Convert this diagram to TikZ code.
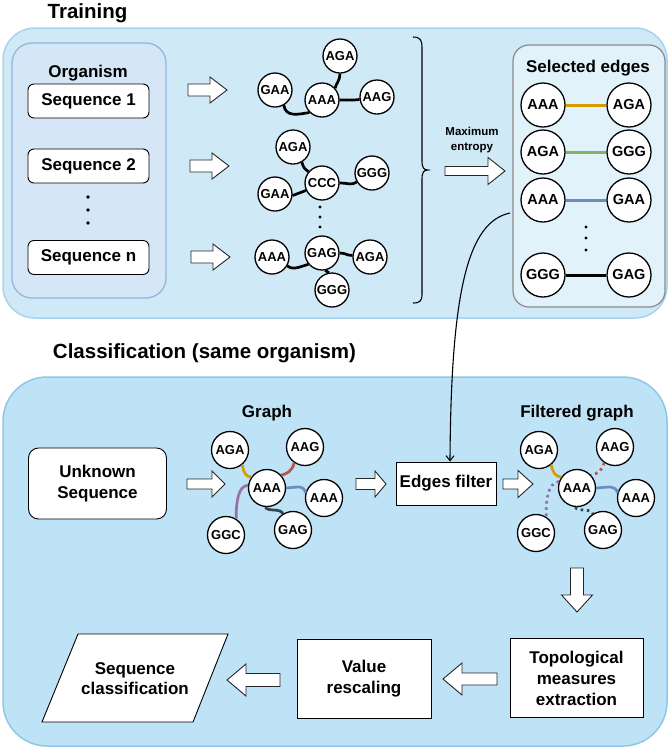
\documentclass[tikz,border=0pt]{standalone}
\usepackage{fontspec}
\setmainfont{Liberation Sans}
\usetikzlibrary{arrows.meta}
\definecolor{trainfill}{HTML}{D0E9F6}
\definecolor{trainline}{HTML}{A8D3EE}
\definecolor{orgfill}{HTML}{D5E6F7}
\definecolor{orgline}{HTML}{94B6DF}
\definecolor{selfill}{HTML}{E2F2FA}
\definecolor{selline}{HTML}{8A8A8A}
\definecolor{clsfill}{HTML}{BEE2F6}
\definecolor{clsline}{HTML}{8FC7E7}
\definecolor{eorange}{HTML}{D79B00}
\definecolor{egreen}{HTML}{82B366}
\definecolor{eblue}{HTML}{6C8EBF}
\definecolor{ered}{HTML}{B85450}
\definecolor{epurple}{HTML}{9673A6}
\definecolor{edark}{HTML}{314354}
% horizontal block arrow: tail x, tip x, y, shaft half, head half, head length (negative for left)
\newcommand\myharrow[6]{\draw[barr] (#1,{#3-#4}) -- ({#2-(#6)},{#3-#4}) -- ({#2-(#6)},{#3-#5}) -- (#2,#3) -- ({#2-(#6)},{#3+#5}) -- ({#2-(#6)},{#3+#4}) -- (#1,{#3+#4}) -- cycle;}
% vertical block arrow: x, tail y, tip y, shaft half, head half, head length
\newcommand\myvarrow[6]{\draw[barr] ({#1-#4},#2) -- ({#1-#4},{#3-#6}) -- ({#1-#5},{#3-#6}) -- (#1,#3) -- ({#1+#5},{#3-#6}) -- ({#1+#4},{#3-#6}) -- ({#1+#4},#2) -- cycle;}
\tikzset{
 barr/.style={draw=black!85, line width=0.9pt, fill=white, line join=miter},
 gn/.style={circle, draw, line width=1.3pt, fill=white, inner sep=0pt, minimum size=34pt, font=\bfseries\fontsize{13}{13}\selectfont},
 cn/.style={gn, minimum size=37pt, font=\bfseries\fontsize{13}{14}\selectfont},
 sn/.style={gn, minimum size=44pt, font=\bfseries\fontsize{14.5}{15}\selectfont},
 gedge/.style={line width=2.7pt},
 dotedge/.style={line width=2.7pt, dash pattern=on 2.6pt off 3.6pt},
 seqbox/.style={draw, line width=0.9pt, fill=white, rounded corners=6pt, minimum width=121pt, minimum height=34pt, font=\bfseries\fontsize{17}{19}\selectfont},
 procbox/.style={draw, line width=0.9pt, fill=white, align=center, inner sep=0pt, font=\bfseries\fontsize{17}{21}\selectfont},
 titletext/.style={font=\bfseries\fontsize{20.5}{24}\selectfont},
 subtext/.style={font=\bfseries\fontsize{17}{19}\selectfont},
}
\begin{document}
\begin{tikzpicture}[x=1pt,y=-1pt]
\useasboundingbox (0,0) rectangle (668,748);
% ---------- Training ----------
\node[titletext] (ttrain) at (87.5,13) {Training};
\draw[fill=trainfill, draw=trainline, line width=1.5pt, rounded corners=32pt] (3,28) rectangle (667,318);
\draw[fill=orgfill, draw=orgline, line width=1.3pt, rounded corners=20pt] (12,43) rectangle (166,298);
\node[subtext] (torg) at (88,73) {Organism};
\node[seqbox] (seq1) at (88.5,101) {Sequence 1};
\node[seqbox] (seq2) at (88.5,166) {Sequence 2};
\node[seqbox] (seqn) at (88.5,257.5) {Sequence n};
\foreach \yy in {197,210,223} \fill (88,\yy) circle (1.8pt);

\myharrow{188}{227}{90}{6}{13}{17}
\myharrow{190}{229}{166}{6}{13}{17}
\myharrow{191}{230}{257}{6}{13}{17}

% graph 1
\node[gn] (g1aga) at (340,56) {AGA};
\node[gn] (g1gaa) at (275,90) {GAA};
\node[gn] (g1aaa) at (322,100) {AAA};
\node[gn] (g1aag) at (377,97) {AAG};
\draw[gedge] (g1gaa.-60) .. controls +(2,12) and +(-12,2) .. (g1aaa.-135);
\draw[gedge] (g1aga.south) .. controls +(0,7) and +(1,-5) .. (g1aaa.42);
\draw[gedge] (g1aaa.east) .. controls +(8,0) and +(-8,1) .. (g1aag.188);
% graph 2
\node[gn] (g2aga) at (293,147) {AGA};
\node[gn] (g2ccc) at (322,183) {CCC};
\node[gn] (g2ggg) at (372,173) {GGG};
\node[gn] (g2gaa) at (275,194) {GAA};
\draw[gedge] (g2aga.-60) .. controls +(2,6) and +(-4,-3) .. (g2ccc.140);
\draw[gedge] (g2ccc.east) .. controls +(10,0) and +(-6,4) .. (g2ggg.-150);
\draw[gedge] (g2gaa.-5) -- (g2ccc.-155);
\foreach \yy in {207,217,227} \fill (320,\yy) circle (1.7pt);
% graph 3
\node[gn] (g3aaa) at (272,257) {AAA};
\node[gn] (g3gag) at (322,253) {GAG};
\node[gn] (g3aga) at (370,257) {AGA};
\node[gn] (g3ggg) at (332,290) {GGG};
\draw[gedge] (g3aaa.-30) .. controls +(6,5) and +(-8,2) .. (g3gag.-140);
\draw[gedge] (g3gag.east) .. controls +(6,0) and +(-6,0) .. (g3aga.175);
\draw[gedge] (g3gag.-80) -- (g3ggg.100);

% brace
\draw[line width=1.1pt] (413,37) .. controls (420,37) and (422,40) .. (422,47) -- (422,161)
  .. controls (422,168) and (424,170) .. (428,170) .. controls (424,170) and (422,172) .. (422,179)
  -- (422,294) .. controls (422,301) and (420,303) .. (413,303);
\node[font=\bfseries\fontsize{11.5}{15}\selectfont, align=center] (maxent) at (472,140) {Maximum\\entropy};
\myharrow{445}{505}{171}{4.5}{13.5}{17}

% selected edges
\draw[fill=selfill, draw=selline, line width=1.2pt, rounded corners=16pt] (513,45) rectangle (665,307);
\node[font=\bfseries\fontsize{17}{19}\selectfont] (seltitle) at (588,68) {Selected edges};
\node[sn] (s1a) at (543,105) {AAA};
\node[sn] (s1b) at (629,105) {AGA};
\node[sn] (s2a) at (543,152) {AGA};
\node[sn] (s2b) at (629,152) {GGG};
\node[sn] (s3a) at (543,200) {AAA};
\node[sn] (s3b) at (629,200) {GAA};
\node[sn] (s4a) at (543,275) {GGG};
\node[sn] (s4b) at (629,275) {GAG};
\draw[line width=3pt, eorange] (s1a) -- (s1b);
\draw[line width=3pt, egreen] (s2a) -- (s2b);
\draw[line width=3pt, eblue] (s3a) -- (s3b);
\draw[line width=3pt, black] (s4a) -- (s4b);
\foreach \yy in {227,238,250} \fill (586,\yy) circle (1.7pt);

% ---------- Classification ----------
\node[titletext] (tcls) at (204.5,353) {Classification (same organism)};
\draw[fill=clsfill, draw=clsline, line width=1.5pt, rounded corners=44pt] (3,377) rectangle (667,746);

\node[procbox, rounded corners=10pt, minimum width=138pt, minimum height=71pt] (unk) at (97.5,483.5) {Unknown\\Sequence};
\myharrow{187}{225}{484}{5}{13}{13}

\node[subtext] (tgraph) at (267,413) {Graph};
\node[cn] (c1aga) at (230,450) {AGA};
\node[cn] (c1aag) at (305,447) {AAG};
\node[cn] (c1aaa) at (267,488) {AAA};
\node[cn] (c1aaar) at (324,498) {AAA};
\node[cn] (c1ggc) at (226,535) {GGC};
\node[cn] (c1gag) at (293,530) {GAG};
\draw[gedge, eorange] (c1aga.-50) .. controls +(1,8) and +(-5,0) .. (c1aaa.145);
\draw[gedge, ered] (c1aag.-125) .. controls +(-1,8) and +(5,-1) .. (c1aaa.42);
\draw[gedge, eblue] (c1aaa.east) .. controls +(14,-1) and +(-2,-8) .. (c1aaar.165);
\draw[gedge, epurple] (c1aaa.172) .. controls +(-10,0) and +(0,-16) .. (c1ggc.58);
\draw[gedge, edark] (c1aaa.-95) .. controls +(2,5) and +(-2,-6) .. (c1gag.122);

\myharrow{356}{386}{484}{5.5}{13}{11}
\node[procbox, minimum width=100pt, minimum height=43pt] (filter) at (446,483.5) {Edges filter};
\myharrow{503}{533}{484}{5}{13.5}{15}

\node[subtext] (tfilt) at (577,413) {Filtered graph};
\node[cn] (c2aga) at (539,450) {AGA};
\node[cn] (c2aag) at (615,447) {AAG};
\node[cn] (c2aaa) at (577,488) {AAA};
\node[cn] (c2aaar) at (636,498) {AAA};
\node[cn] (c2ggc) at (536,533) {GGC};
\node[cn] (c2gag) at (603,530) {GAG};
\draw[gedge, eorange] (c2aga.-50) .. controls +(1,8) and +(-5,0) .. (c2aaa.145);
\draw[dotedge, ered] (c2aag.-125) .. controls +(-1,8) and +(5,-1) .. (c2aaa.42);
\draw[gedge, eblue] (c2aaa.east) .. controls +(14,-1) and +(-2,-8) .. (c2aaar.165);
\draw[dotedge, epurple] (c2aaa.160) .. controls +(-12,2) and +(0,-16) .. (c2ggc.58);
\draw[dotedge, edark] (c2aaa.-95) .. controls +(2,5) and +(-2,-6) .. (c2gag.122);

% curve from selected edges to filter
\coordinate (selout) at (510,213);
\draw[line width=1.1pt, -{Straight Barb[length=5pt,width=8pt]}] (selout) .. controls (468,222) and (451,290) .. ([xshift=4pt]filter.north);

\myvarrow{577}{568}{612}{6.5}{15.5}{17}
\node[procbox, minimum width=133pt, minimum height=79pt] (topo) at (576.5,678) {Topological\\measures\\extraction};
\myharrow{497}{443}{679}{6}{16}{-19}
\node[procbox, minimum width=134pt, minimum height=79pt] (value) at (364,678.5) {Value\\rescaling};
\myharrow{280}{227}{680}{6.5}{16}{-19}
\draw[line width=0.9pt, fill=white] (78,634) -- (228,634) -- (193,722) -- (42,722) -- cycle;
\node[font=\bfseries\fontsize{17}{20}\selectfont, align=center] (seqcls) at (135,679) {Sequence\\classification};
\end{tikzpicture}
\end{document}
